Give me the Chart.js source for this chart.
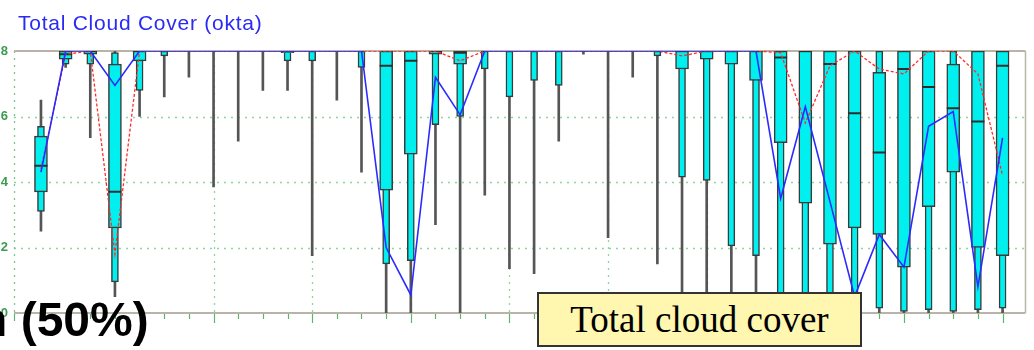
<!DOCTYPE html>
<html><head><meta charset="utf-8">
<script src="https://cdn.jsdelivr.net/npm/chart.js@4"></script>
<style>
html,body{margin:0;padding:0;background:#fff;}
#wrap{position:relative;width:1034px;height:350px;overflow:hidden;background:#fff;}
#c{position:absolute;left:0;top:0;}
#title{position:absolute;left:18px;top:12px;font:21px/21px "Liberation Sans",Arial,sans-serif;letter-spacing:0.75px;color:#2a2af5;white-space:nowrap;}
#pct{position:absolute;left:-22px;top:296px;font:bold 48px/48px "Liberation Sans",Arial,sans-serif;color:#000;white-space:nowrap;}
#lbl{position:absolute;left:537px;top:292px;width:321px;height:51px;border:2px solid #333;background:#fff6b0;font:37px/51px "Liberation Serif","Times New Roman",serif;text-align:center;color:#000;white-space:nowrap;}
</style></head>
<body><div id="wrap"><canvas id="c" width="1034" height="350"></canvas>
<div id="title">Total Cloud Cover (okta)</div>
<div id="pct">n (50%)</div>
<div id="lbl">Total cloud cover</div></div>
<script>
const steps      = [0,1,2,3,4,5,6,7,8,9,10,11,12,13,14,15,16,17,18,19,20,21,22,23,24,25,26,27,28,29,30,31,32,33,34,35,36,37,38,39];
const majorSteps = [7,11,15,19,23,27,31,35,39];
const yTicks     = [0,2,4,6,8];
const ensMin = [2.5,7.5,5.35,0.5,6.0,6.6,7.2,3.85,5.25,6.8,6.8,1.75,6.5,4.3,0,0,2.7,0,3.6,1.35,1.2,5.25,7.9,2.3,7.2,1.5,0,0,0,0,0,0,0,0,0,0,0,0,0,0];
const ensP10 = [3.1,7.6,7.6,0.95,6.8,7.85,8,8,8,8,7.7,7.7,8,7.5,1.5,1.6,5.75,6.0,7.45,6.6,7.1,6.95,8,8,8,7.85,4.15,4.05,2.05,1.75,0.1,0.1,0.1,0.1,0.15,0.05,0.1,0.05,0.1,0.15];
const ensP25 = [3.7,7.75,7.9,2.6,7.7,8,8,8,8,8,7.95,8,8,8,3.75,4.85,7.9,7.6,8,8,8,8,8,8,8,8,7.45,7.75,7.6,7.1,5.2,3.35,2.1,2.6,2.4,1.4,3.25,4.3,2.0,1.75];
const ensMed = [4.5,7.9,8,3.7,8,8,8,8,8,8,8,8,8,8,7.55,7.7,8,7.95,8,8,8,8,8,8,8,8,8,8,8,8,7.8,8,7.6,6.1,4.9,7.45,6.9,6.25,5.85,7.55];
const ensP75 = [5.4,8,8,7.6,8,8,8,8,8,8,8,8,8,8,8,8,8,8,8,8,8,8,8,8,8,8,8,8,8,8,8,8,8,8,7.35,8,8,7.6,8,8];
const ensP90 = [5.7,8,8,7.95,8,8,8,8,8,8,8,8,8,8,8,8,8,8,8,8,8,8,8,8,8,8,8,8,8,8,8,8,8,8,8,8,8,8,8,8];
const ensMax = [6.5,8,8,8,8,8,8,8,8,8,8,8,8,8,8,8,8,8,8,8,8,8,8,8,8,8,8,8,8,8,8,8,8,8,8,8,8,8,8,8];
const hres    = [4.3,8,8,6.95,8,8,8,8,8,8,8,8,8,8,2.0,0.55,7.2,6.05,8,8,8,8,8,8,8,8,8,8,8,8,3.5,6.3,3.4,0.5,2.4,1.4,5.7,6.15,0.8,5.35];
const control = [4.4,7.9,8,1.8,8,8,8,8,8,8,8,8,8,8,8,8,8,7.7,8,8,8,8,8,8,8,8,7.85,8,8,8,7.95,5.8,7.55,8,7.45,7.3,8,8,7.3,4.2];

function ranges(lo, hi){
  const out = [];
  steps.forEach((s,i)=>{ if (hi[i] > lo[i]) out.push({x:s, y:[lo[i], hi[i]]}); });
  return out;
}
const medPts = [];
steps.forEach((s,i)=>{ if (ensP75[i] > ensP25[i]) medPts.push({x:s, y:ensMed[i]}); });

const frame = {
  id:'frame',
  beforeDatasetsDraw(chart){
    const {ctx, chartArea:a, scales:{x, y}} = chart;
    const seg = (x1,y1,x2,y2)=>{ctx.beginPath();ctx.moveTo(x1,y1);ctx.lineTo(x2,y2);ctx.stroke();};
    ctx.save();
    ctx.strokeStyle = '#8fd49e'; ctx.lineWidth = 1.3; ctx.setLineDash([2,5]);
    yTicks.forEach(v=>{ if (v>0 && v<8){ const py = Math.round(y.getPixelForValue(v))+0.5; seg(a.left, py, a.right, py);} });
    majorSteps.forEach(s=>{ const px = Math.round(x.getPixelForValue(s))+0.5; seg(px, a.top, px, a.bottom); });
    ctx.strokeStyle = '#7cc48c';
    seg(a.left+0.5, a.top, a.left+0.5, a.bottom);
    ctx.setLineDash([]);
    ctx.strokeStyle = '#5cb46e'; ctx.lineWidth = 1.2;
    steps.forEach(s=>{ const px = Math.round(x.getPixelForValue(s))+0.5; const major = majorSteps.includes(s); seg(px, a.bottom, px, a.bottom + (major?10:6)); });
    seg(a.left+0.5, a.bottom, a.left+0.5, a.bottom+8);
    ctx.strokeStyle = '#b8b4a8'; ctx.lineWidth = 2;
    seg(a.left, a.top, a.right, a.top);
    seg(a.left, a.bottom, a.right, a.bottom);
    ctx.lineWidth = 1.5;
    seg(a.right, a.top, a.right, a.bottom);
    ctx.restore();
  }
};

new Chart(document.getElementById('c'), {
  type: 'bar',
  data: { datasets: [
    { type:'line', label:'HRES', data: steps.map((s,i)=>({x:s, y:hres[i]})), borderColor:'#2b2bff', borderWidth:1.6, pointRadius:0, tension:0, order:0 },
    { type:'line', label:'Control', data: steps.map((s,i)=>({x:s, y:control[i]})), borderColor:'#ff2a2a', borderWidth:1.3, borderDash:[3,2], pointRadius:0, tension:0, order:1 },
    { type:'scatter', label:'Median', data: medPts, pointStyle:'line', pointRadius:6.5, pointBorderWidth:2, borderColor:'#2d2d2d', backgroundColor:'#2d2d2d', order:2 },
    { type:'bar', label:'25-75%', data: ranges(ensP25, ensP75), barThickness:13, grouped:false, backgroundColor:'#00f0f0', borderColor:'#3a3a3a', borderWidth:1.5, borderSkipped:false, order:3 },
    { type:'bar', label:'10-90%', data: ranges(ensP10, ensP90), barThickness:7, grouped:false, backgroundColor:'#00f0f0', borderColor:'#3a3a3a', borderWidth:1.5, borderSkipped:false, order:4 },
    { type:'bar', label:'min-max', data: ranges(ensMin, ensMax), barThickness:2, grouped:false, backgroundColor:'#555555', borderWidth:0, order:5 }
  ]},
  options: {
    responsive:false, animation:false, devicePixelRatio:1,
    layout:{ padding:{ top:51, right:7, left:0, bottom:0 } },
    plugins:{ legend:{display:false}, tooltip:{enabled:false}, title:{display:false} },
    scales:{
      x:{ type:'linear', min:-1.0935, max:39.93, offset:false,
          grid:{display:false, drawTicks:false}, border:{display:false},
          ticks:{display:false}, afterFit(s){ s.height = 37; } },
      y:{ type:'linear', min:0, max:8,
          grid:{display:false, drawTicks:false}, border:{display:false},
          ticks:{ stepSize:2, padding:6, color:'#3c9c50', font:{family:'Liberation Sans', size:13, weight:'bold'} },
          afterFit(s){ s.width = 14; } }
    }
  },
  plugins:[frame]
});
</script>
</body></html>
